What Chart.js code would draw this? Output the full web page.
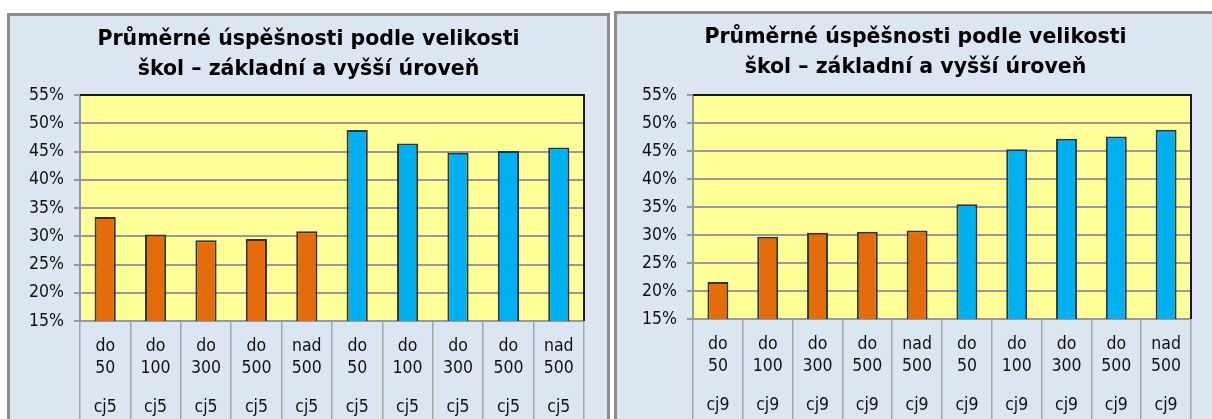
<!DOCTYPE html>
<html>
<head>
<meta charset="utf-8">
<script src="https://cdn.jsdelivr.net/npm/chart.js@4.4.1/dist/chart.umd.min.js"></script>
<style>
  body { margin: 0; background: #ffffff; width: 1212px; height: 419px; overflow: hidden; position: relative; }
  .box { position: absolute; background: #dce6f2; border: 3px solid #8c8c8c; }
  #boxLeft { left: 7px; top: 13px; width: 597px; height: 410px; }
  #boxRight { left: 614px; top: 11px; width: 597px; height: 410px; }
  canvas { display: block; }
</style>
</head>
<body>
<div class="box" id="boxLeft"><canvas id="grafLevy" width="597" height="410"></canvas></div>
<div class="box" id="boxRight"><canvas id="grafPravy" width="597" height="410"></canvas></div>
<script>
// Průměrné úspěšnosti podle velikosti škol – dva grafy vedle sebe

const velikosti = [
  ["do", "50"], ["do", "100"], ["do", "300"], ["do", "500"], ["nad", "500"],
  ["do", "50"], ["do", "100"], ["do", "300"], ["do", "500"], ["nad", "500"]
];
const skupinaCj5 = ["cj5", "cj5", "cj5", "cj5", "cj5", "cj5", "cj5", "cj5", "cj5", "cj5"];
const skupinaCj9 = ["cj9", "cj9", "cj9", "cj9", "cj9", "cj9", "cj9", "cj9", "cj9", "cj9"];

// úspěšnost v % (základní úroveň = prvních 5, vyšší = dalších 5)
const uspesnostCj5 = [33.4, 30.3, 29.3, 29.5, 30.9, 48.8, 46.4, 44.8, 45.1, 45.7];
const uspesnostCj9 = [21.6, 29.7, 30.4, 30.6, 30.8, 35.5, 45.3, 47.2, 47.6, 48.8];

const osaY = { min: 15, max: 55, krok: 5 };

const titulek = ["Průměrné úspěšnosti podle velikosti", "škol – základní a vyšší úroveň"];

const ORANZOVA = "#e46c0a";
const MODRA = "#00b0f0";
const barvySloupcu = [ORANZOVA, ORANZOVA, ORANZOVA, ORANZOVA, ORANZOVA, MODRA, MODRA, MODRA, MODRA, MODRA];

const FONT_TITULEK = "'DejaVu Sans', Verdana, sans-serif";
const FONT = "'DejaVu Sans Condensed', 'DejaVu Sans', sans-serif";

// žluté pozadí plochy grafu + černý horní a pravý okraj
const pozadiPlochy = {
  id: "pozadiPlochy",
  beforeDraw(chart) {
    const { ctx, chartArea: a } = chart;
    ctx.save();
    ctx.fillStyle = "#ffff99";
    ctx.fillRect(a.left, a.top, a.right - a.left, a.bottom - a.top);
    ctx.restore();
  },
  afterDatasetsDraw(chart) {
    const { ctx, chartArea: a } = chart;
    ctx.save();
    ctx.strokeStyle = "#1a1a1a";
    ctx.lineWidth = 2;
    ctx.beginPath();
    ctx.moveTo(a.left, a.top);
    ctx.lineTo(a.right, a.top);
    ctx.lineTo(a.right, a.bottom);
    ctx.stroke();
    ctx.restore();
  }
};

// mezera vpravo od plochy grafu (prázdná osa, titulek zůstane na středu plátna)
const OKRAJ_VPRAVO = 23;

function vytvorGraf(idCanvas, hodnoty, skupiny, sirkaOsyY, mezeraPodTitulkem) {
  return new Chart(document.getElementById(idCanvas), {
    type: "bar",
    data: {
      labels: velikosti,
      datasets: [{
        data: hodnoty,
        backgroundColor: barvySloupcu,
        borderColor: "#333333",
        borderWidth: 2,
        borderSkipped: false,
        categoryPercentage: 1,
        barPercentage: 0.42
      }]
    },
    options: {
      responsive: false,
      animation: false,
      layout: { padding: 0 },
      plugins: {
        legend: { display: false },
        tooltip: { enabled: false },
        title: {
          display: true,
          text: titulek,
          color: "#000000",
          font: { family: FONT_TITULEK, size: 20.5, weight: "bold", lineHeight: "30px" },
          padding: { top: 9, bottom: mezeraPodTitulkem }
        }
      },
      scales: {
        y: {
          min: osaY.min,
          max: osaY.max,
          afterFit: s => { s.width = sirkaOsyY; },
          ticks: {
            stepSize: osaY.krok,
            padding: 10,
            color: "#111111",
            font: { family: FONT, size: 17.5 },
            callback: v => v + "%"
          },
          grid: { color: "#999999", lineWidth: 2, tickLength: 6 },
          border: { color: "#999999", width: 2 }
        },
        mezera: {
          type: "linear",
          position: "right",
          afterFit: s => { s.width = OKRAJ_VPRAVO; },
          ticks: { display: false },
          grid: { display: false },
          border: { display: false }
        },
        x: {
          weight: 0,
          afterFit: s => { s.height = 60; },
          ticks: {
            autoSkip: false,
            maxRotation: 0,
            padding: -108,
            color: "#111111",
            font: { family: FONT, size: 17.5, lineHeight: "22px" }
          },
          grid: { offset: true, drawOnChartArea: false, color: "#a6a6a6", lineWidth: 1.5, tickLength: 122 },
          border: { color: "#999999", width: 2 }
        },
        x2: {
          type: "category",
          position: "bottom",
          weight: 1,
          labels: skupiny,
          afterFit: s => { s.height = 45; },
          ticks: {
            autoSkip: false,
            maxRotation: 0,
            padding: 8,
            color: "#111111",
            font: { family: FONT, size: 17.5 }
          },
          grid: { display: false },
          border: { display: false }
        }
      }
    },
    plugins: [pozadiPlochy]
  });
}

vytvorGraf("grafLevy", uspesnostCj5, skupinaCj5, 70, 10);
vytvorGraf("grafPravy", uspesnostCj9, skupinaCj9, 76, 12);
</script>
</body>
</html>
